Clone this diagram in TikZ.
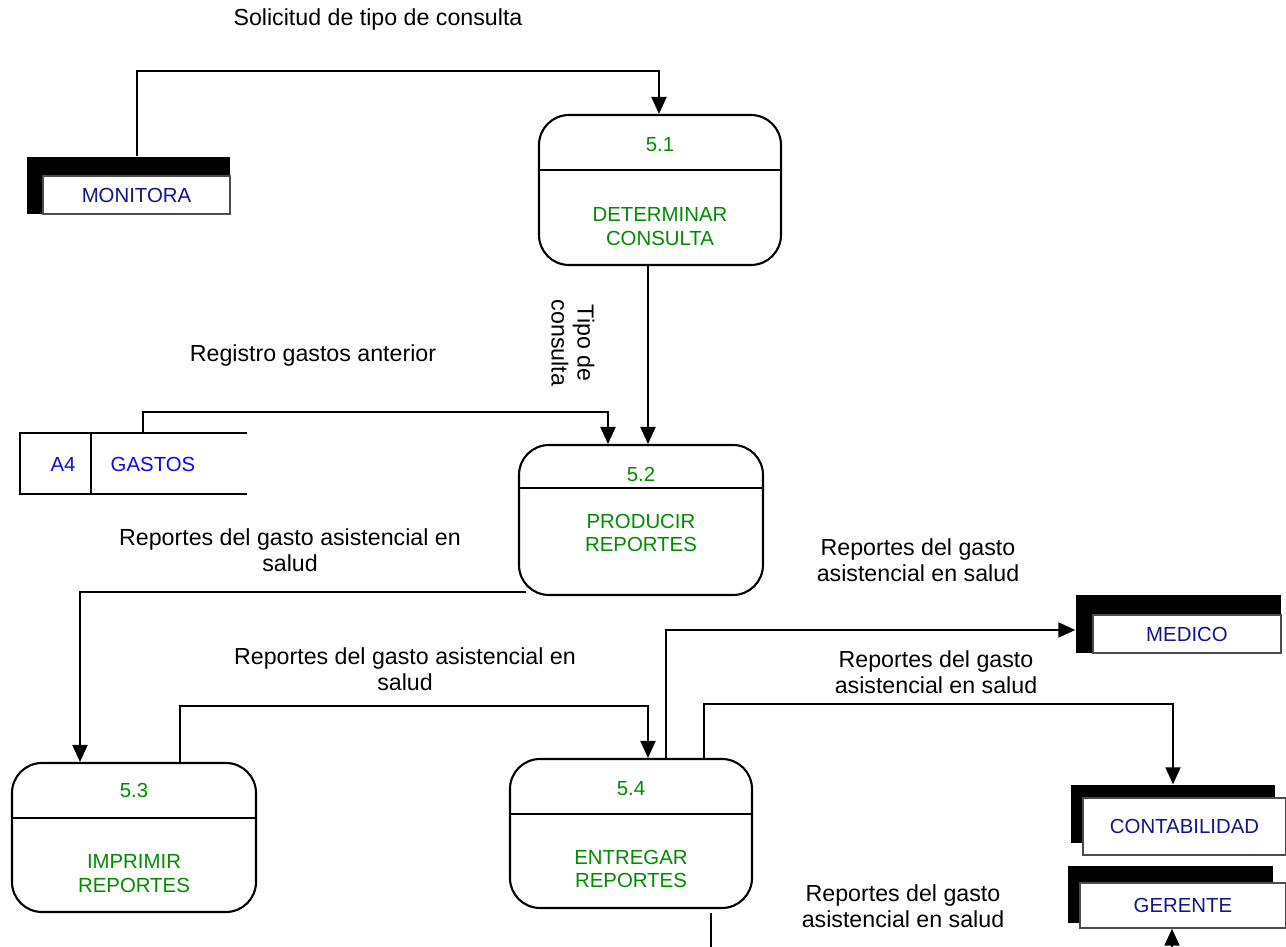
\documentclass[tikz,border=0pt]{standalone}
\usepackage{fontspec}
\setmainfont{Liberation Sans}
\usepackage{xcolor}
\usepackage{tikz}
\usetikzlibrary{arrows.meta, positioning, calc}

\definecolor{procgreen}{RGB}{0,140,0}
\definecolor{entnavy}{RGB}{20,20,140}
\definecolor{storeblue}{RGB}{10,10,245}

\begin{document}
\begin{tikzpicture}[
    proc/.style={rectangle, rounded corners=0.3cm, draw=black, line width=0.6pt,
                 minimum width=2.43cm, minimum height=1.5cm, inner sep=0pt},
    num/.style={font=\fontsize{5.8}{6.8}\selectfont, text=procgreen, inner sep=0pt},
    pname/.style={font=\fontsize{5.8}{6.8}\selectfont, text=procgreen, align=center, inner sep=0pt},
    divl/.style={line width=0.6pt},
    entback/.style={rectangle, fill=black, inner sep=0pt},
    entfront/.style={rectangle, fill=white, draw=black!70, line width=0.4pt, inner sep=0pt,
                     font=\fontsize{5.8}{6.8}\selectfont, text=entnavy},
    cell/.style={rectangle, inner sep=0pt, minimum height=0.59cm},
    storetxt/.style={font=\fontsize{5.8}{6.8}\selectfont, text=storeblue, inner sep=0pt},
    flow/.style={-{Triangle[length=0.17cm, width=0.15cm]}, line width=0.6pt},
    line/.style={line width=0.6pt},
    lbl/.style={font=\fontsize{6.6}{7.4}\selectfont, align=center, inner sep=0pt}
]
\useasboundingbox (0,0) rectangle (12.86,-9.47);

% --- Processes ---
\node[proc, minimum width=2.42cm] (p51) at (6.60,-1.90) {};
\node[num] (n51) at ([yshift=-0.31cm]p51.north) {5.1};
\node[pname] (t51) at ([yshift=-1.13cm]p51.north) {DETERMINAR\\CONSULTA};
\draw[divl] ([yshift=-0.56cm]p51.north west) -- ([yshift=-0.56cm]p51.north east);

\node[proc, minimum width=2.44cm] (p52) at (6.41,-5.20) {};
\node[num] (n52) at ([yshift=-0.31cm]p52.north) {5.2};
\node[pname] (t52) at ([yshift=-0.89cm]p52.north) {PRODUCIR\\REPORTES};
\draw[divl] ([yshift=-0.44cm]p52.north west) -- ([yshift=-0.44cm]p52.north east);

\node[proc, minimum width=2.44cm, minimum height=1.49cm] (p53) at (1.34,-8.375) {};
\node[num] (n53) at ([yshift=-0.29cm]p53.north) {5.3};
\node[pname] (t53) at ([yshift=-1.12cm]p53.north) {IMPRIMIR\\REPORTES};
\draw[divl] ([yshift=-0.56cm]p53.north west) -- ([yshift=-0.56cm]p53.north east);

\node[proc, minimum width=2.42cm, minimum height=1.49cm] (p54) at (6.31,-8.335) {};
\node[num] (n54) at ([yshift=-0.31cm]p54.north) {5.4};
\node[pname] (t54) at ([yshift=-1.11cm]p54.north) {ENTREGAR\\REPORTES};
\draw[divl] ([yshift=-0.56cm]p54.north west) -- ([yshift=-0.56cm]p54.north east);

% --- External entities ---
\node[entback, minimum width=2.03cm, minimum height=0.57cm] (monS) at (1.285,-1.855) {};
\node[entfront, minimum width=1.87cm, minimum height=0.38cm] (mon) at (1.365,-1.95) {MONITORA};

\node[entback, minimum width=2.05cm, minimum height=0.58cm] (medS) at (11.785,-6.24) {};
\node[entfront, minimum width=1.88cm, minimum height=0.38cm] (med) at (11.87,-6.34) {MEDICO};

\node[entback, minimum width=2.04cm, minimum height=0.58cm] (conS) at (11.73,-8.14) {};
\node[entfront, minimum width=2.03cm, minimum height=0.57cm] (con) at (11.845,-8.265) {CONTABILIDAD};

\node[entback, minimum width=2.05cm, minimum height=0.57cm] (gerS) at (11.705,-8.95) {};
\node[entfront, minimum width=2.06cm, minimum height=0.45cm] (ger) at (11.83,-9.055) {GERENTE};

% --- Data store ---
\node[cell, minimum width=0.69cm] (a4) at (0.555,-4.635) {};
\node[cell, minimum width=1.56cm] (gastos) at (1.68,-4.635) {};
\node[storetxt] (a4t) at (0.63,-4.645) {A4};
\node[storetxt] (gastost) at (1.53,-4.645) {GASTOS};
\draw[line] (gastos.north east) -- (a4.north west) -- (a4.south west) -- (gastos.south east);
\draw[line] (a4.north east) -- (a4.south east);

% --- Free ends ---
\coordinate (out54) at (7.11,-9.47);
\coordinate (inger) at (11.72,-9.47);

% --- Flows ---
\draw[flow] ([xshift=0.085cm]monS.north) -- ++(0,0.85) -| ([xshift=-0.01cm]p51.north);
\node[lbl] (lsol) at (3.78,-0.20) {Solicitud de tipo de consulta};

\draw[flow] ([xshift=-0.12cm]p51.south) -- ([xshift=-0.12cm]p51.south |- p52.north);
\node[lbl, rotate=-90] (ltipo) at (5.73,-3.43) {Tipo de\\consulta};

\draw[flow] ([xshift=-0.25cm]gastos.north) -- ++(0,0.21) -| ([xshift=-0.33cm]p52.north);
\node[lbl] (lreg) at (3.13,-3.56) {Registro gastos anterior};

\draw[flow] ([xshift=0.08cm, yshift=0.04cm]p52.south west) -| ([xshift=-0.54cm]p53.north);
\node[lbl] (lrep1) at (2.90,-5.50) {Reportes del gasto asistencial en\\salud};

\draw[flow] ([xshift=0.46cm]p53.north) -- ++(0,0.56) -| ([xshift=0.17cm]p54.north);
\node[lbl] (lrep2) at (4.05,-6.695) {Reportes del gasto asistencial en\\salud};

\draw[flow] ([xshift=0.35cm]p54.north) |- ([yshift=-0.06cm]medS.west);
\node[lbl] (lrep3) at (9.18,-5.60) {Reportes del gasto\\asistencial en salud};

\draw[flow] ([xshift=0.73cm]p54.north) -- ++(0,0.54) -| (conS.north);
\node[lbl] (lrep4) at (9.36,-6.725) {Reportes del gasto\\asistencial en salud};

\draw[line] ([xshift=0.80cm, yshift=-0.04cm]p54.south) -- (out54);
\draw[flow] (inger) -- (inger |- ger.south);
\node[lbl] (lrep5) at (9.03,-9.06) {Reportes del gasto\\asistencial en salud};

\end{tikzpicture}
\end{document}
